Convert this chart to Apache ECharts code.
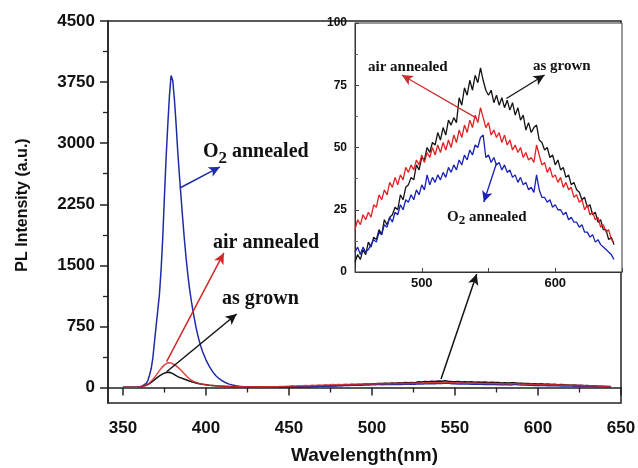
<!DOCTYPE html>
<html><head><meta charset="utf-8">
<script src="https://cdn.jsdelivr.net/npm/echarts@6/dist/echarts.min.js"></script>
<style>html,body{margin:0;padding:0;background:#fff}#c{width:638px;height:468px}</style>
</head><body><div id="c"></div>
<script>
// ---------- data ----------
const peakWavelengths = [350,355,358,360,362,364,365,366,367,368,369,370,371,372,373,374,375,376,377,378,379,380,381,382,383,384,385,386,387,388,389,390,391,392,393,394,395,396,397,398,400,402,404,406,408,410,412,414,416,418,420,424,428,432,436,440,444,448];
const peakAsGrown = [2,3,4,8,14,28,36,48,62,78,95,112,128,143,157,168,178,185,189,187,180,170,158,146,135,125,117,110,103,96,88,80,73,66,60,55,50,46,42,39,34,29,25,21,18,16,14,12,11,10,9,7,6,5,5,4,4,4];
const peakAir = [2,3,4,8,15,30,40,55,75,100,125,152,180,208,235,258,278,294,304,307,302,292,280,265,250,232,212,190,168,146,126,108,92,80,70,62,55,49,44,40,34,29,25,22,19,17,15,14,13,12,11,10,9,9,9,10,12,15];
const peakO2 = [2,3,4,8,22,50,86,150,230,360,560,760,950,1150,1450,1850,2350,2820,3220,3580,3830,3770,3540,3240,2900,2610,2340,2070,1820,1600,1400,1230,1090,960,850,740,650,570,500,440,340,260,195,145,108,80,58,42,30,21,15,8,5,4,4,5,6,7];

const tailWavelengths = [450,452,454,456,458,460,462,464,466,468,470,472,474,476,478,480,482,484,486,488,490,492,494,496,498,500,502,504,506,508,510,512,514,516,518,520,522,524,526,528,530,532,534,536,538,540,542,544,546,548,550,552,554,556,558,560,562,564,566,568,570,572,574,576,578,580,582,584,586,588,590,592,594,596,598,600,602,604,606,608,610,612,614,616,618,620,622,624,626,628,630,632,634,636,638,640,642,644];
const tailAsGrown = [4,7,5,9,7,12,10,14,13,17,15,21,19,22,23,26,25,31,29,34,35,38,37,43,41,46,45,50,48,52,51,56,53,58,55,61,59,62,60,70,67,74,71,77,73,79,76,82,77,73,71,73,68,71,67,70,66,69,65,68,63,66,61,63,57,60,56,58,59,53,52,49,50,46,47,43,45,41,42,38,39,35,36,33,32,29,30,26,27,23,24,20,21,17,17,13,14,11];
const tailAir = [17,21,19,23,21,24,22,27,26,31,29,33,31,36,34,38,35,39,37,42,40,43,41,45,43,47,44,48,46,50,47,51,48,52,49,53,50,55,52,57,54,59,56,61,58,63,60,66,62,58,60,55,57,54,56,52,55,51,53,49,51,48,50,46,48,45,46,44,51,47,43,44,40,42,38,39,36,38,34,36,33,34,30,31,28,29,25,27,23,24,21,22,18,19,16,17,13,12];
const tailO2 = [8,10,7,10,8,9,11,13,12,16,15,19,18,22,20,24,23,27,25,29,28,31,29,33,31,35,33,39,35,38,36,39,37,40,38,42,40,43,41,45,43,47,45,49,47,51,50,54,55,46,47,44,46,43,44,41,43,40,41,38,39,36,38,35,36,33,34,32,39,33,30,30,28,29,26,27,25,25,23,24,21,22,20,20,18,19,16,16,14,15,12,13,11,10,9,8,7,5];

const mainXLabels = [350,400,450,500,550,600,650];
const mainXMinor = [375,425,475,525,575,625];
const mainYLabels = [0,750,1500,2250,3000,3750,4500];
const mainYMinor = [375,1125,1875,2625,3375,4125];
const insetXLabels = [500,600];

// ---------- build ----------
const pairs = (xs, ys) => xs.map((x, i) => [x, ys[i]]);
const mainAsGrown = pairs(peakWavelengths.concat(tailWavelengths), peakAsGrown.concat(tailAsGrown));
const mainAir = pairs(peakWavelengths.concat(tailWavelengths), peakAir.concat(tailAir));
const mainO2 = pairs(peakWavelengths.concat(tailWavelengths), peakO2.concat(tailO2));
const insAsGrown = pairs(tailWavelengths, tailAsGrown);
const insAir = pairs(tailWavelengths, tailAir);
const insO2 = pairs(tailWavelengths, tailO2);

const BLACK = '#141414', RED = '#d42828', BLUE = '#1f2ca8';
const sans = '"Liberation Sans", Arial, sans-serif';
const serif = '"Liberation Serif", "Times New Roman", serif';

function arrow(color, from, to, w) {
  return {
    silent: true, symbol: ['none', 'arrow'], symbolSize: [8, 11], animation: false,
    label: { show: false }, emphasis: { disabled: true },
    lineStyle: { color: color, width: w || 1.5, type: 'solid' },
    data: [[{ coord: from }, { coord: to }]]
  };
}
function txt(x, y, s, size) {
  return { type: 'text', x: x, y: y, z: 10, style: { text: s, fill: '#111', font: 'bold ' + size + 'px ' + serif, verticalAlign: 'middle' } };
}

const chart = echarts.init(document.getElementById('c'), null, { renderer: 'canvas' });
const axisLineStyle = { color: '#222', width: 1.5 };
chart.setOption({
  animation: false,
  backgroundColor: '#fff',
  grid: [
    { left: 108, right: 17, top: 21, bottom: 65, show: true, borderColor: '#222', borderWidth: 1.5, containLabel: false, outerBoundsMode: 'none' },
    { left: 355, right: 16, top: 23, bottom: 196, show: true, borderColor: '#333', borderWidth: 1, backgroundColor: '#fff', containLabel: false, outerBoundsMode: 'none' }
  ],
  xAxis: [
    { gridIndex: 0, type: 'value', min: 341, max: 650, position: 'bottom',
      axisLine: { show: true, lineStyle: axisLineStyle },
      axisTick: { show: true, inside: false, length: 8, customValues: mainXLabels, lineStyle: { color: '#222', width: 1.5 } },
      axisLabel: { show: true, customValues: mainXLabels, color: '#111', fontFamily: sans, fontWeight: 'bold', fontSize: 17, margin: 17,
        formatter: v => String(v) },
      splitLine: { show: false },
      name: 'Wavelength(nm)', nameLocation: 'middle', nameGap: 43,
      nameTextStyle: { color: '#111', fontFamily: sans, fontWeight: 'bold', fontSize: 19 } },
    { gridIndex: 0, type: 'value', min: 341, max: 650, position: 'bottom',
      axisLine: { show: false },
      axisTick: { show: true, inside: false, length: 5, customValues: mainXMinor, lineStyle: { color: '#222', width: 1.3 } },
      axisLabel: { show: false }, splitLine: { show: false } },
    { gridIndex: 1, type: 'value', min: 450, max: 650, interval: 50, position: 'bottom',
      axisLine: { show: true, lineStyle: { color: '#333', width: 1 } },
      axisTick: { show: true, inside: true, length: 4, lineStyle: { color: '#444' } },
      axisLabel: { show: true, color: '#111', fontFamily: sans, fontWeight: 'bold', fontSize: 13, margin: 5,
        formatter: v => insetXLabels.indexOf(v) >= 0 ? String(v) : '' },
      splitLine: { show: false } }
  ],
  yAxis: [
    { gridIndex: 0, type: 'value', min: -190, max: 4500, position: 'left',
      axisLine: { show: true, lineStyle: axisLineStyle },
      axisTick: { show: true, inside: false, length: 8, customValues: mainYLabels, lineStyle: { color: '#222', width: 1.5 } },
      axisLabel: { show: true, customValues: mainYLabels, color: '#111', fontFamily: sans, fontWeight: 'bold', fontSize: 17, margin: 13,
        formatter: v => String(v) },
      splitLine: { show: false },
      name: 'PL Intensity (a.u.)', nameLocation: 'middle', nameGap: 77, nameRotate: 90,
      nameTextStyle: { color: '#111', fontFamily: sans, fontWeight: 'bold', fontSize: 16, padding: [0, 0, 0, 14] } },
    { gridIndex: 0, type: 'value', min: -190, max: 4500, position: 'left',
      axisLine: { show: false },
      axisTick: { show: true, inside: false, length: 5, customValues: mainYMinor, lineStyle: { color: '#222', width: 1.3 } },
      axisLabel: { show: false }, splitLine: { show: false } },
    { gridIndex: 1, type: 'value', min: 0, max: 100, interval: 25, position: 'left',
      axisLine: { show: true, lineStyle: { color: '#333', width: 1 } },
      axisTick: { show: true, inside: true, length: 4, lineStyle: { color: '#444' } },
      minorTick: { show: true, splitNumber: 2, length: 3, lineStyle: { color: '#666' } },
      axisLabel: { show: true, color: '#111', fontFamily: sans, fontWeight: 'bold', fontSize: 12, margin: 8 },
      splitLine: { show: false } }
  ],
  series: [
    { type: 'line', xAxisIndex: 0, yAxisIndex: 0, data: mainAsGrown, showSymbol: false, symbol: 'none',
      lineStyle: { color: BLACK, width: 1.5 }, z: 3,
      markLine: { ...arrow(BLACK, [376.3, 194], [418.5, 903]) } },
    { type: 'line', xAxisIndex: 0, yAxisIndex: 0, data: mainO2, showSymbol: false, symbol: 'none',
      lineStyle: { color: BLUE, width: 1.5 }, z: 3,
      markLine: { ...arrow(BLUE, [384.3, 2450], [408.4, 2708]) } },
    { type: 'line', xAxisIndex: 0, yAxisIndex: 0, data: mainAir, showSymbol: false, symbol: 'none',
      lineStyle: { color: RED, width: 1.5, opacity: 0.85 }, z: 3,
      markLine: { ...arrow(RED, [376.3, 317], [410.8, 1652]) } },
    { type: 'line', xAxisIndex: 0, yAxisIndex: 0, data: [], showSymbol: false, symbol: 'none',
      markLine: { ...arrow(BLACK, [541.6, 104], [563.1, 1394]) } },
    { type: 'line', xAxisIndex: 2, yAxisIndex: 2, data: insAsGrown, showSymbol: false, symbol: 'none',
      lineStyle: { color: BLACK, width: 1.3 }, z: 4,
      markLine: { ...arrow(BLACK, [563.4, 69.7], [592, 79.1], 1.3) } },
    { type: 'line', xAxisIndex: 2, yAxisIndex: 2, data: insAir, showSymbol: false, symbol: 'none',
      lineStyle: { color: '#e02222', width: 1.3 }, z: 4,
      markLine: { ...arrow('#c83030', [541, 61.8], [485.1, 79.1], 1.3) } },
    { type: 'line', xAxisIndex: 2, yAxisIndex: 2, data: insO2, showSymbol: false, symbol: 'none',
      lineStyle: { color: '#1a22b4', width: 1.3 }, z: 4,
      markLine: { ...arrow('#1a22b4', [556, 43.7], [546.5, 28.1], 1.3) } }
  ],
  graphic: [
    txt(203, 152, 'O', 20), txt(218.6, 159, '2', 17), txt(232, 152, 'annealed', 20),
    txt(213, 243, 'air annealed', 20),
    txt(222, 299, 'as grown', 20),
    txt(368, 67, 'air annealed', 15),
    txt(533, 66, 'as grown', 15),
    txt(447, 217, 'O', 15), txt(458.7, 221, '2', 13), txt(469, 217, 'annealed', 15)
  ]
});
</script></body></html>
